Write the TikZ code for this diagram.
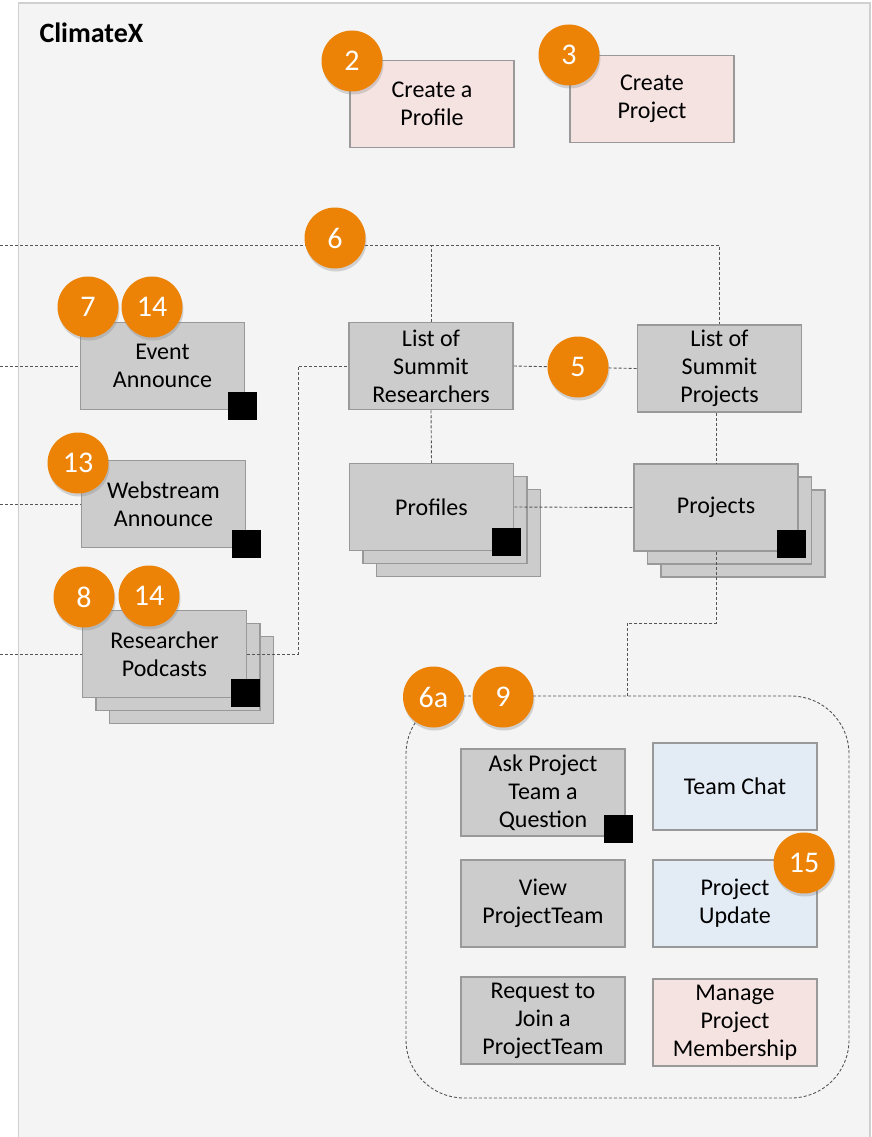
\documentclass[tikz,border=0pt]{standalone}
\usepackage{fontspec}
\setmainfont{Carlito}
\usetikzlibrary{shadows}
\definecolor{panelfill}{HTML}{F4F4F4}
\definecolor{panelline}{HTML}{D0D0D0}
\definecolor{boxgray}{HTML}{CCCCCC}
\definecolor{boxline}{HTML}{999999}
\definecolor{boxpink}{HTML}{F5E3E2}
\definecolor{boxblue}{HTML}{E3EBF5}
\definecolor{badgeorange}{HTML}{EC8206}
\definecolor{linkgray}{HTML}{555555}
\tikzset{
	box/.style={draw=boxline,line width=1.5pt,fill=boxgray,minimum width=164pt,minimum height=87pt,inner sep=0pt,align=center,font=\fontsize{24}{28}\selectfont},
	pinkbox/.style={box,fill=boxpink},
	bluebox/.style={box,fill=boxblue},
	stackbox/.style={box,copy shadow={shadow xshift=27pt,shadow yshift=-26pt},copy shadow={shadow xshift=13.5pt,shadow yshift=-13pt}},
	badge/.style={circle,fill=badgeorange,minimum size=61pt,inner sep=0pt,text=white,font=\fontsize{30}{30}\selectfont,drop shadow={shadow xshift=1pt,shadow yshift=-3pt,opacity=.3}},
	corner/.style={fill=black,minimum width=29pt,minimum height=28pt,inner sep=0pt},
	link/.style={draw=linkgray,line width=0.9pt,dash pattern=on 3pt off 2pt}
}
\begin{document}
\begin{tikzpicture}[x=1pt,y=-1pt]
	\useasboundingbox (0,0) rectangle (872,1137);
	\fill[white] (0,0) rectangle (872,1137);
	\draw[panelline,fill=panelfill,line width=1.5pt] (18.5,1140) -- (18.5,3) -- (870,3) -- (870,1140);
	\node[anchor=west,font=\fontsize{28}{28}\selectfont\bfseries] (title) at (36,33) {ClimateX};
	\node[pinkbox] (createprof) at (432,104) {Create a\\Profile};
	\node[pinkbox] (createproj) at (652,99) {Create\\Project};
	\node[box] (sumres) at (431,366) {List of\\Summit\\Researchers};
	\node[box] (sumproj) at (719.5,368.5) {List of\\Summit\\Projects};
	\node[box] (evann) at (162.5,366) {Event\\Announce};
	\node[box] (webann) at (163.5,504) {Webstream\\Announce};
	\node[stackbox] (podcasts) at (164.5,654) {Researcher\\Podcasts};
	\node[stackbox] (profiles) at (431.5,507) {Profiles};
	\node[stackbox] (projects) at (716,507.5) {Projects};
	\node[draw=linkgray,line width=0.9pt,dash pattern=on 3pt off 2pt,rounded corners=58pt,minimum width=443pt,minimum height=402pt] (teamarea) at (627.5,897) {};
	\node[box] (askq) at (543,792.5) {Ask Project\\Team a\\Question};
	\node[bluebox] (chat) at (735,786.5) {Team Chat};
	\node[box] (viewteam) at (543,903.5) {View\\ProjectTeam};
	\node[bluebox] (update) at (735,903.5) {Project\\Update};
	\node[box] (joinreq) at (543,1020.5) {Request to\\Join a\\ProjectTeam};
	\node[pinkbox] (manage) at (735,1022.5) {Manage\\Project\\Membership};
	\coordinate (topin) at (0,245);
	\coordinate (evin) at (0,366);
	\coordinate (webin) at (0,504);
	\coordinate (podin) at (0,654);
	\coordinate (podturn) at (298,654);
	\coordinate (projturn) at (716,623);
	\draw[link] (topin) -- (sumres.north |- topin) -- (sumres.north);
	\draw[link] (sumres.north |- topin) -| (sumproj.north);
	\draw[link] (evin) -- (evann.west);
	\draw[link] (webin) -- (webann.west);
	\draw[link] (podin) -- (podcasts.west);
	\draw[link] (podcasts.east) -- (podturn) |- (sumres.west);
	\draw[link] (sumres.east) -- (sumproj.west);
	\draw[link] (sumres.south) -- (profiles.north);
	\draw[link] (projects.north |- sumproj.south) -- (projects.north);
	\draw[link] (profiles.east) -- (projects.west);
	\draw[link] (projects.south) -- (projturn) -| (teamarea.north);
	\node[corner] (evcorner) at (242.5,405.5) {};
	\node[corner] (webcorner) at (246,543.5) {};
	\node[corner] (podcorner) at (245.5,693) {};
	\node[corner] (profcorner) at (506.5,542) {};
	\node[corner] (projcorner) at (791.5,544) {};
	\node[corner] (askcorner) at (618.5,829) {};
	\node[badge] (b2) at (352,61) {2};
	\node[badge] (b3) at (569,55) {3};
	\node[badge] (b6) at (335,238) {6};
	\node[badge] (b7) at (88,307) {7};
	\node[badge] (b14a) at (152,307) {14};
	\node[badge] (b13) at (78,463) {13};
	\node[badge] (b8) at (84,597) {8};
	\node[badge] (b14b) at (149,596) {14};
	\node[badge] (b5) at (578,367) {5};
	\node[badge] (b6a) at (433.5,697) {6a};
	\node[badge] (b9) at (503,697) {9};
	\node[badge] (b15) at (804,863) {15};
\end{tikzpicture}
\end{document}
